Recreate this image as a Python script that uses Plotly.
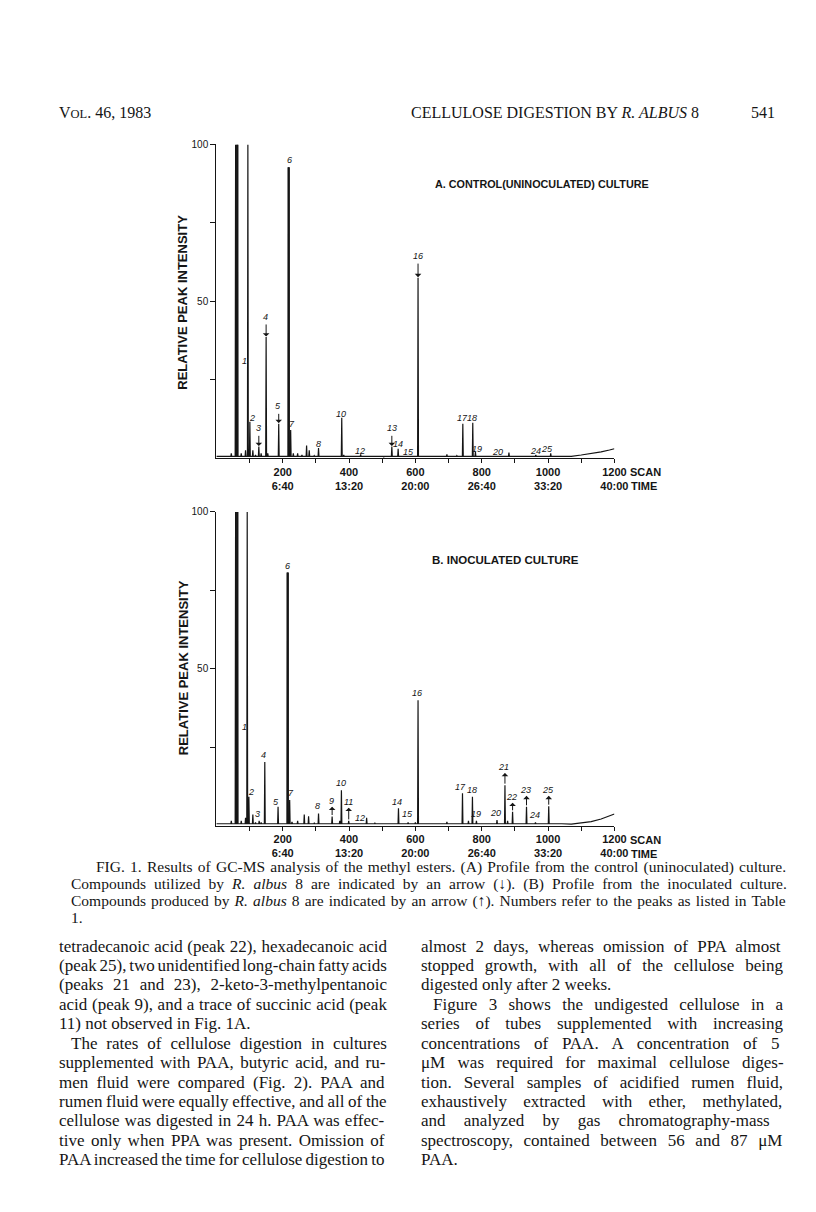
import re
import plotly.graph_objects as go

# ---------------- data ----------------
# Panel A: control (uninoculated) culture
A_peak_scan = [20, 45, 58, 63, 75, 88, 95, 101, 110, 118, 128, 135, 150, 155, 188, 218, 224, 232,
               245, 258, 272, 280, 295, 308, 355, 378, 384, 435, 465, 505, 529, 548, 578, 608,
               655, 695, 725, 743, 760, 773, 781, 845, 882, 900, 925, 963, 990, 1008, 1035]
A_peak_height = [0.8, 1.5, 100, 100, 1.5, 2.5, 100, 11.6, 2.5, 1.0, 3.7, 1.5, 38.6, 1.5, 11.0, 92.7, 9.0, 1.5,
                 1.5, 1.0, 4.0, 2.5, 0.8, 3.2, 0.6, 12.9, 1.0, 1.2, 0.7, 0.4, 3.7, 3.0, 0.5, 57.5,
                 0.5, 1.2, 0.8, 11.0, 0.8, 11.3, 2.0, 0.8, 1.8, 0.6, 0.5, 1.0, 0.6, 1.5, 0.6]
A_thick_scan = [63, 218]
A_tail_scan = [1070, 1100, 1130, 1160, 1185, 1200]
A_tail_level = [0.6, 1.0, 1.4, 2.0, 2.6, 3.0]
A_baseline = 0.6

A_labels = ["1", "2", "3", "4", "5", "6", "7", "8", "10", "12", "13", "14", "15", "16",
            "17", "18", "19", "20", "24", "25"]
A_label_scan = [86, 107, 127, 149, 187, 219, 227, 308, 377, 433, 528, 549, 578, 607,
                741, 771, 786, 847, 963, 997]
A_label_y = [31, 12.7, 9.5, 45, 16.5, 95.2, 10.8, 4.6, 14, 2.4, 9.5, 4.6, 1.9, 64.4,
             12.7, 12.7, 3.0, 1.9, 2.4, 3.0]
A_arrow_labels = ["3", "4", "5", "13", "16"]          # utilized (arrow down)

# Panel B: inoculated culture
B_peak_scan = [20, 45, 58, 63, 75, 88, 93, 98, 110, 118, 129, 135, 146, 186, 215, 221, 228, 245,
               265, 278, 295, 308, 349, 372, 377, 399, 437, 453, 478, 520, 549, 578, 600, 608,
               655, 695, 725, 742, 760, 772, 784, 846, 870, 878, 893, 915, 935, 962, 1002, 1040]
B_peak_height = [0.8, 1.5, 100, 100, 1.5, 2.5, 100, 9.2, 3.5, 1.0, 1.5, 1.0, 20.3, 6.0, 80.7, 8.2, 1.2, 1.5,
                 3.5, 3.0, 0.8, 3.9, 2.9, 1.5, 11.3, 1.5, 0.8, 2.5, 0.8, 0.5, 5.5, 1.0, 1.0, 40.0,
                 0.5, 1.2, 0.6, 10.3, 1.5, 9.2, 1.5, 1.8, 12.9, 1.5, 4.4, 0.6, 6.0, 1.0, 6.2, 0.5]
B_thick_scan = [63, 215]
B_tail_scan = [1070, 1100, 1130, 1160, 1185, 1200]
B_tail_level = [0.5, 0.8, 1.3, 2.1, 3.0, 3.7]
B_baseline = 0.6

B_labels = ["1", "2", "3", "4", "5", "6", "7", "8", "9", "10", "11", "12", "14", "15", "16",
            "17", "18", "19", "20", "21", "22", "23", "24", "25"]
B_label_scan = [84, 104, 124, 142, 181, 213, 224, 305, 347, 376, 398, 433, 545, 575, 604,
                737, 770, 784, 842, 867, 891, 932, 958, 1000]
B_label_y = [31.4, 10.8, 3.8, 22.5, 7.6, 82.9, 10.5, 6.2, 7.9, 13.7, 7.6, 2.4, 7.6, 3.8, 42.2,
             12.4, 11.4, 3.8, 4.1, 18.7, 9.2, 11.4, 3.5, 11.4]
B_arrow_labels = ["9", "11", "21", "22", "23", "25"]  # produced (arrow up)

x_tickvals = [100, 200, 300, 400, 500, 600, 700, 800, 900, 1000, 1100, 1200]
x_ticktext = ["", "200<br>6:40", "", "400<br>13:20", "", "600<br>20:00", "",
              "800<br>26:40", "", "1000<br>33:20", "", "1200<br>40:00"]
y_tickvals = [25, 50, 75, 100]
y_ticktext = ["", "50", "", "100"]

# ---------------- layout helpers ----------------
W, H = 816, 1212


def PX(x):
    return x / W


def PY(y):
    return 1 - y / H


INK = "#151515"
SERIF = "Liberation Serif, Times New Roman, serif"
SANS = "Liberation Sans, Arial, sans-serif"

A_TOP, A_BOT = 132, 447
B_TOP, B_BOT = 501, 816

fig = go.Figure()


def chromatogram(scans, heights, tail_s, tail_h, base, thick, xa, ya):
    xs, ys = [0], [base]
    for s, h in sorted(zip(scans, heights)):
        xs += [s - 1.3, s, s + 1.3]
        ys += [base, h, base]
    xs += tail_s
    ys += tail_h
    fig.add_trace(go.Scatter(x=xs, y=ys, mode="lines", xaxis=xa, yaxis=ya,
                             line=dict(color=INK, width=1.2), hoverinfo="skip",
                             showlegend=False))
    lookup = dict(zip(scans, heights))
    tx, ty = [], []
    for s in thick:
        tx += [s, s, None]
        ty += [base, lookup[s], None]
    fig.add_trace(go.Scatter(x=tx, y=ty, mode="lines", xaxis=xa, yaxis=ya,
                             line=dict(color=INK, width=2.4), hoverinfo="skip",
                             showlegend=False))


chromatogram(A_peak_scan, A_peak_height, A_tail_scan, A_tail_level, A_baseline, A_thick_scan, "x", "y")
chromatogram(B_peak_scan, B_peak_height, B_tail_scan, B_tail_level, B_baseline, B_thick_scan, "x2", "y2")

annotations = []


def peak_labels(labels, lscan, ly, xr, yr):
    for t, s, y in zip(labels, lscan, ly):
        annotations.append(dict(x=s, y=y, xref=xr, yref=yr, text=f"<i>{t}</i>", showarrow=False,
                                font=dict(family=SANS, size=9, color=INK),
                                xanchor="center", yanchor="middle"))


peak_labels(A_labels, A_label_scan, A_label_y, "x", "y")
peak_labels(B_labels, B_label_scan, B_label_y, "x2", "y2")

# arrows derived from the peak and label data
A_peak_of = {"3": 128, "4": 150, "5": 188, "13": 529, "16": 608}
B_peak_of = {"9": 349, "11": 399, "21": 870, "22": 893, "23": 935, "25": 1002}
A_h = dict(zip(A_peak_scan, A_peak_height))
B_h = dict(zip(B_peak_scan, B_peak_height))
A_ly = dict(zip(A_labels, A_label_y))
B_ly = dict(zip(B_labels, B_label_y))

for lab in A_arrow_labels:
    s = A_peak_of[lab]
    annotations.append(dict(x=s, y=A_h[s] + 0.2, ax=s, ay=A_ly[lab] - 1.9, xref="x", yref="y",
                            axref="x", ayref="y", text="", showarrow=True, arrowhead=1,
                            arrowsize=1.1, arrowwidth=1, arrowcolor=INK))
for lab in B_arrow_labels:
    s = B_peak_of[lab]
    annotations.append(dict(x=s, y=B_ly[lab] - 1.9, ax=s, ay=B_h[s], xref="x2", yref="y2",
                            axref="x2", ayref="y2", text="", showarrow=True, arrowhead=1,
                            arrowsize=1.1, arrowwidth=1, arrowcolor=INK))


def txt(x, y, text, size, family=SERIF, xanchor="left", bold=False, angle=0):
    annotations.append(dict(x=PX(x), y=PY(y), xref="paper", yref="paper", text=text,
                            showarrow=False, xanchor=xanchor, yanchor="middle", textangle=angle,
                            font=dict(family=family, size=size, color=INK,
                                      weight="bold" if bold else "normal")))


# Times-Roman advance widths (1/1000 em) for justified text lines
_TW = {" ": 250, ",": 250, ".": 250, "-": 333, "(": 333, ")": 333, ":": 278, ";": 278,
       "↓": 500, "↑": 500, "μ": 500}
_TW.update({c: 500 for c in "0123456789"})
_TW.update(dict(zip("abcdefghijklmnopqrstuvwxyz",
                    [444, 500, 444, 500, 444, 333, 500, 500, 278, 278, 500, 278, 778, 500, 500,
                     500, 500, 333, 389, 278, 500, 500, 722, 500, 500, 444])))
_TW.update(dict(zip("ABCDEFGHIJKLMNOPQRSTUVWXYZ",
                    [722, 667, 667, 722, 611, 556, 722, 722, 333, 389, 722, 611, 889, 722, 722,
                     556, 722, 667, 556, 611, 722, 722, 944, 722, 722, 611])))


def justified(x, y, text, size, right, justify=True):
    plain = re.sub(r"<[^>]+>", "", text)
    natural = sum(_TW.get(c, 500) for c in plain) * size / 1000
    gaps = plain.count(" ")
    if justify and gaps:
        ws = (right - x - natural) / gaps
        ws = max(min(ws, 14), -1.5)
        text = f"<span style='word-spacing:{ws:.2f}px'>{text}</span>"
    txt(x, y, text, size)


# page header
txt(50, 100, "V<span style='font-size:12.5px'>OL</span>. 46, 1983", 16)
txt(408, 100, "CELLULOSE DIGESTION BY <i>R. ALBUS</i> 8", 16)
txt(782, 100, "541", 16, xanchor="right")

# panel titles
txt(432, 172, "A. CONTROL(UNINOCULATED) CULTURE", 10.8, SANS, bold=True)
txt(429, 549, "B. INOCULATED CULTURE", 11.5, SANS, bold=True)

# y titles
txt(178, 290, "RELATIVE PEAK INTENSITY", 13, SANS, xanchor="center", bold=True, angle=-90)
txt(178, 657, "RELATIVE PEAK INTENSITY", 13, SANS, xanchor="center", bold=True, angle=-90)

# axis-end words
for yb in (A_BOT, B_BOT):
    txt(631, yb + 14, "SCAN", 11, SANS, bold=True)
    txt(632, yb + 28, "TIME", 11, SANS, bold=True)

# caption
cap = [
    (88, "FIG. 1. Results of GC-MS analysis of the methyl esters. (A) Profile from the control (uninoculated) culture.", True),
    (62, "Compounds utilized by <i>R. albus</i> 8 are indicated by an arrow (↓). (B) Profile from the inoculated culture.", True),
    (62, "Compounds produced by <i>R. albus</i> 8 are indicated by an arrow (↑). Numbers refer to the peaks as listed in Table", True),
    (62, "1.", False),
]
for i, (x, t, j) in enumerate(cap):
    justified(x, 858 + 16.8 * i, t, 15.5, 778, j)

left_col = [
    (50, "tetradecanoic acid (peak 22), hexadecanoic acid", True),
    (50, "(peak 25), two unidentified long-chain fatty acids", True),
    (50, "(peaks 21 and 23), 2-keto-3-methylpentanoic", True),
    (50, "acid (peak 9), and a trace of succinic acid (peak", True),
    (50, "11) not observed in Fig. 1A.", False),
    (62, "The rates of cellulose digestion in cultures", True),
    (50, "supplemented with PAA, butyric acid, and ru-", True),
    (50, "men fluid were compared (Fig. 2). PAA and", True),
    (50, "rumen fluid were equally effective, and all of the", True),
    (50, "cellulose was digested in 24 h. PAA was effec-", True),
    (50, "tive only when PPA was present. Omission of", True),
    (50, "PAA increased the time for cellulose digestion to", True),
]
right_col = [
    (418, "almost 2 days, whereas omission of PPA almost", True),
    (418, "stopped growth, with all of the cellulose being", True),
    (418, "digested only after 2 weeks.", False),
    (430, "Figure 3 shows the undigested cellulose in a", True),
    (418, "series of tubes supplemented with increasing", True),
    (418, "concentrations of PAA. A concentration of 5", True),
    (418, "μM was required for maximal cellulose diges-", True),
    (418, "tion. Several samples of acidified rumen fluid,", True),
    (418, "exhaustively extracted with ether, methylated,", True),
    (418, "and analyzed by gas chromatography-mass", True),
    (418, "spectroscopy, contained between 56 and 87 μM", True),
    (418, "PAA.", False),
]
for col, right in ((left_col, 378), (right_col, 780)):
    for i, (x, t, j) in enumerate(col):
        justified(x, 937 + 19.5 * i, t, 17, right, j)

axis_common = dict(showline=True, linecolor=INK, linewidth=1.3, ticks="outside", ticklen=4,
                   tickwidth=1.2, tickcolor=INK, showgrid=False, zeroline=False, fixedrange=True)
xaxis_style = dict(axis_common, range=[0, 1200], tickmode="array", tickvals=x_tickvals,
                   ticktext=x_ticktext, tickangle=0, ticklabelstandoff=-1,
                   tickfont=dict(family=SANS, size=11, color=INK, weight="bold"))
yaxis_style = dict(axis_common, range=[0, 100], tickmode="array", tickvals=y_tickvals,
                   ticktext=y_ticktext, ticklen=5,
                   tickfont=dict(family=SANS, size=10, color=INK))

fig.update_layout(
    width=W, height=H, margin=dict(l=0, r=0, t=0, b=0),
    paper_bgcolor="white", plot_bgcolor="white", showlegend=False,
    xaxis=dict(xaxis_style, domain=[PX(212), PX(617)], anchor="y"),
    yaxis=dict(yaxis_style, domain=[PY(A_BOT), PY(A_TOP)], anchor="x"),
    xaxis2=dict(xaxis_style, domain=[PX(212), PX(617)], anchor="y2"),
    yaxis2=dict(yaxis_style, domain=[PY(B_BOT), PY(B_TOP)], anchor="x2"),
    annotations=annotations,
)

fig.write_html("out.html")
